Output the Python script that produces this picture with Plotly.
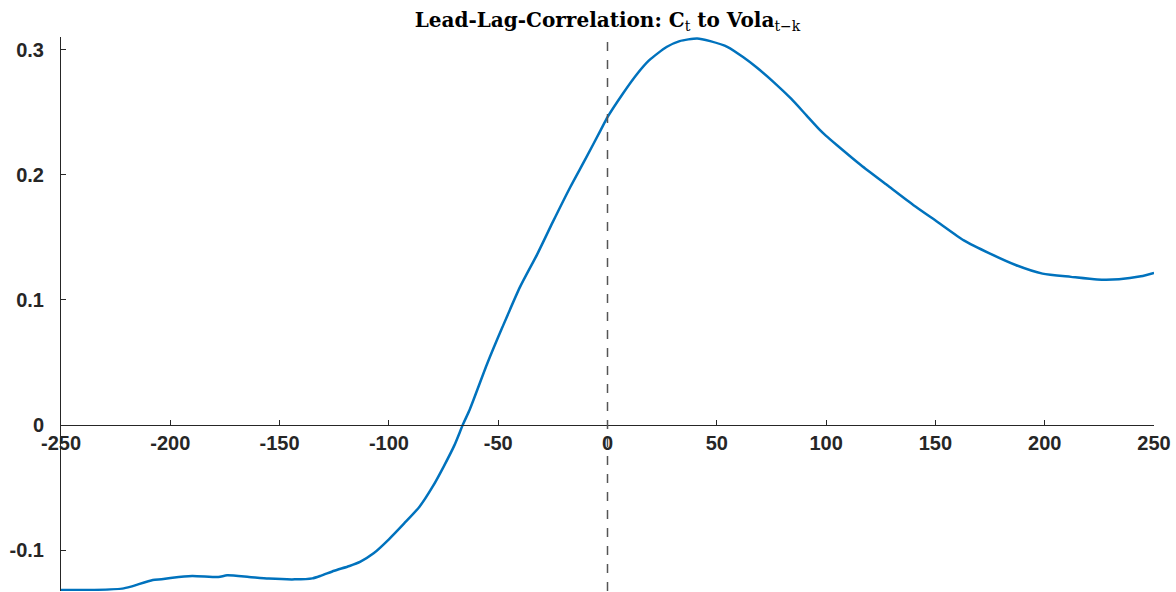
import plotly.graph_objects as go

lags = [-250, -238, -222, -218, -208, -204, -199, -190, -178, -174, -164, -155, -143, -135,
        -131, -125, -118, -113, -107, -100, -93, -86, -80, -75, -70, -66, -63, -55, -48, -40,
        -32, -25, -17, -10, -3, 0, 7, 13, 19, 27, 33, 41, 47, 55, 62, 68, 76, 84, 91, 97,
        100, 105, 116, 128, 140, 151, 163, 175, 187, 199, 212, 224, 234, 244, 250]
corr = [-0.1317, -0.1317, -0.1306, -0.1290, -0.1237, -0.1232, -0.1219, -0.1205, -0.1213,
        -0.1200, -0.1213, -0.1226, -0.1232, -0.1224,
        -0.1202, -0.1163, -0.1125, -0.1090, -0.1024, -0.0912, -0.0785, -0.0652, -0.0492,
        -0.0333, -0.0160, 0.0010, 0.0125, 0.0492, 0.0785, 0.1104,
        0.1370, 0.1623, 0.1902, 0.2128, 0.2360, 0.2460, 0.2647, 0.2793, 0.2913, 0.3020,
        0.3067, 0.3089, 0.3067, 0.3020, 0.2940, 0.2860, 0.2740, 0.2607, 0.2474, 0.2360,
        0.2310, 0.2235, 0.2075, 0.1915, 0.1756, 0.1623, 0.1476, 0.1370, 0.1277, 0.1210,
        0.1184, 0.1163, 0.1165, 0.1189, 0.1216]

x_ticks = [-250, -200, -150, -100, -50, 0, 50, 100, 150, 200, 250]
x_tick_text = ["-250", "-200", "-150", "-100", "-50", "0", "50", "100", "150", "200", "250"]
y_ticks = [-0.1, 0, 0.1, 0.2, 0.3]
y_tick_text = ["-0.1", "0", "0.1", "0.2", "0.3"]

y_min, y_max = -0.1325, 0.31
axis_color = "#262626"

fig = go.Figure()
fig.add_trace(go.Scatter(x=lags, y=corr, mode="lines",
                         line=dict(color="#0072BD", width=2.5, shape="spline", smoothing=0.6),
                         showlegend=False))

fig.add_shape(type="line", xref="x", yref="paper", x0=0, x1=0, y0=0, y1=1,
              line=dict(color="#555555", width=1.5, dash="dash"))

tick_font = dict(family="Liberation Sans, Arial, sans-serif", size=20, color=axis_color, weight="bold")

fig.update_layout(
    width=1176, height=592,
    margin=dict(l=61, r=22, t=37, b=1),
    paper_bgcolor="white", plot_bgcolor="white",
    title=dict(
        text="Lead-Lag-Correlation: C<sub><span style='font-weight:normal'>t</span></sub> to Vola<sub><span style='font-weight:normal'>t−k</span></sub>",
        font=dict(family="DejaVu Serif, serif", size=20, color="#000000", weight="bold"),
        x=0.5, xref="paper", xanchor="center",
        y=1 - 20 / 592, yref="container", yanchor="middle"),
    xaxis=dict(range=[-250, 250], tickvals=x_ticks, ticktext=x_tick_text, ticks="inside", ticklen=5,
               tickcolor=axis_color, showline=True, linecolor=axis_color, linewidth=1,
               showgrid=False, zeroline=False, anchor="free",
               position=(0 - y_min) / (y_max - y_min), tickfont=tick_font),
    yaxis=dict(range=[y_min, y_max], tickvals=y_ticks, ticktext=y_tick_text,
               ticks="inside", ticklen=5, tickcolor=axis_color, showline=True,
               linecolor=axis_color, linewidth=1, showgrid=False, zeroline=False,
               tickfont=tick_font, ticklabelstandoff=12),
)

fig.write_html("out.html")
